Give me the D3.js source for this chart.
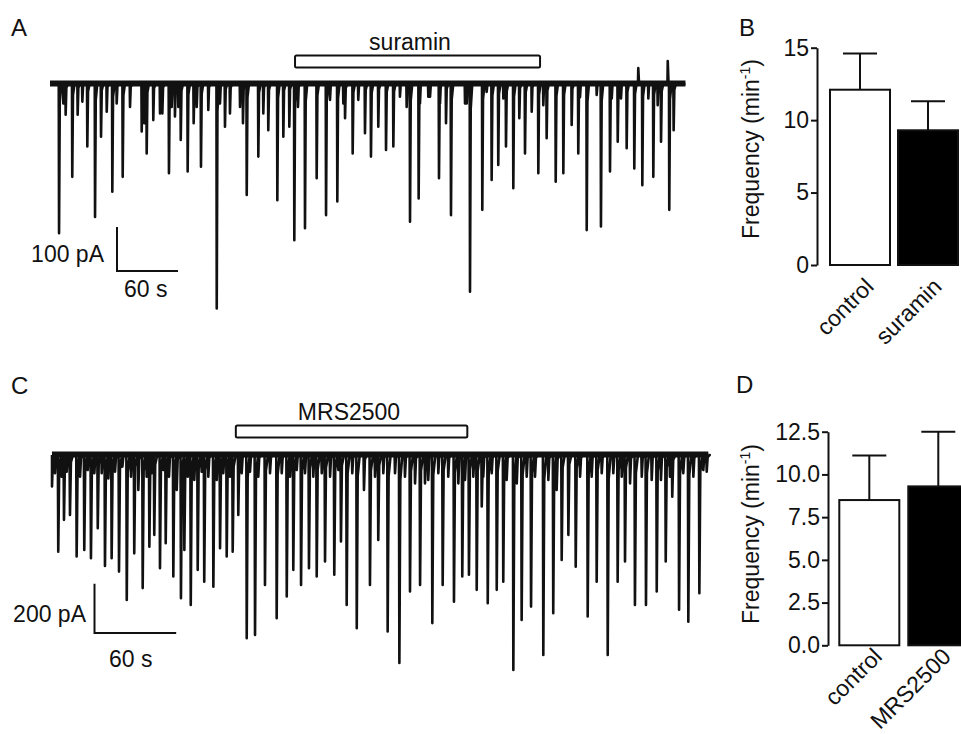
<!DOCTYPE html>
<html>
<head>
<meta charset="utf-8">
<script src="https://cdn.jsdelivr.net/npm/d3@7"></script>
<style>
  body { margin: 0; background: #fff; }
  svg text { font-family: "Liberation Sans", Arial, sans-serif; fill: #111; }
  .trace { fill: none; stroke: #111; stroke-width: 2.6; stroke-linejoin: round; }
  .noise { stroke: #111; stroke-width: 6; }
  .scalebar { fill: none; stroke: #111; stroke-width: 2; }
  .drugbar { fill: #fff; stroke: #111; stroke-width: 2; }
  .axis path, .axis line { stroke: #111; stroke-width: 2; }
  .axis text { font-size: 23px; }
</style>
</head>
<body>
<div id="chart-container"></div>
<script>
// Panel A trace: suramin experiment (time in s, amplitude in pA, inward = positive)
const eventTimesA = [8.9, 15.4, 21.9, 27.2, 36.7, 44.3, 50.2, 55.8, 61.3, 71.5, 78.7, 90.2, 95.1, 101.6, 110.5, 117.0, 122.9, 128.6, 135.4, 141.3, 148.5, 155.7, 164.0, 172.1, 177.0, 193.5, 204.9, 214.7, 223.6, 229.5, 235.4, 240.3, 250.8, 262.3, 271.5, 282.6, 290.2, 297.7, 303.2, 309.8, 315.7, 322.9, 330.5, 337.7, 350.8, 354.1, 362.6, 372.1, 382.6, 389.5, 394.4, 409.9, 413.1, 425.2, 434.4, 440.9, 448.5, 455.7, 461.6, 467.2, 473.8, 480.3, 488.5, 497.4, 504.9, 513.1, 519.6, 527.9, 541.9, 550.8, 558.4, 567.2, 574.7, 582.6, 593.4, 601.0, 609.1, 613.4];
const eventAmpsA = [339, 70, 211, 70, 142, 302, 120, 63, 245, 211, 52, 108, 158, 82, 67, 203, 74, 127, 199, 89, 188, 59, 510, 97, 67, 252, 165, 105, 264, 120, 97, 355, 328, 214, 298, 267, 78, 158, 36, 112, 165, 97, 150, 142, 52, 313, 260, 29, 214, 89, 298, 44, 472, 286, 218, 184, 142, 237, 78, 158, 63, 203, 123, 222, 203, 93, 158, 332, 324, 199, 131, 146, 192, 230, 211, 131, 286, 105];
const smallTimesA = [13.1, 31.8, 65.6, 92.8, 108.2, 119.7, 126.2, 144.3, 167.2, 186.9, 189.8, 209.8, 243.9, 275.4, 288.5, 344.2, 363.9, 373.8, 383.6, 408.2, 429.5, 445.9, 485.2, 521.3, 537.7, 552.5, 561.6, 588.5, 597.7];
const smallAmpsA = [44, 40, 44, 89, 67, 52, 52, 52, 44, 52, 89, 67, 52, 36, 44, 29, 44, 29, 44, 44, 18, 33, 48, 30, 25, 33, 33, 33, 48];
const upTimesA = [578.6, 607.6];
const upAmpsA = [-36, -52];
const durationA = 625;
const suraminOn = [241, 482];

// Panel C trace: MRS2500 experiment
const eventTimesC = [0, 4.6, 8.8, 13.2, 18.1, 23.7, 28.6, 33.6, 38.9, 43.8, 49.2, 54.9, 60.4, 66.6, 71.5, 75.1, 79.3, 83.5, 89.1, 94.7, 97.2, 101.9, 107.0, 111.8, 118.5, 123.4, 128.3, 132.7, 136.8, 143.0, 149.1, 156.4, 165.0, 172.4, 177.2, 182.9, 188.7, 194.4, 200.5, 207.3, 212.2, 216.4, 223.8, 229.1, 233.5, 239.6, 246.5, 255.1, 262.9, 270.3, 273.9, 279.3, 286.9, 295.2, 301.3, 306.2, 311.9, 315.6, 320.0, 326.6, 331.4, 338.8, 344.9, 351.8, 360.8, 368.1, 374.3, 379.2, 384.6, 393.4, 400.0, 408.1, 415.4, 420.8, 428.1, 436.2, 444.1, 450.7, 455.5, 460.5, 467.3, 475.4, 480.8];
const eventAmpsC = [128, 392, 263, 243, 412, 385, 419, 297, 450, 419, 473, 588, 399, 540, 372, 324, 459, 358, 493, 581, 385, 608, 466, 514, 534, 378, 412, 392, 243, 743, 730, 527, 662, 574, 466, 527, 459, 493, 432, 486, 351, 608, 703, 142, 527, 345, 716, 844, 554, 527, 115, 682, 527, 595, 493, 486, 547, 209, 601, 547, 514, 872, 669, 615, 811, 642, 426, 324, 453, 655, 514, 811, 514, 432, 608, 608, 554, 432, 169, 628, 676, 561, 68];
const smallTimesC = [2.2, 7.1, 10.8, 20.6, 26.2, 31.1, 36.5, 41.4, 46.3, 51.7, 58.0, 63.4, 69.5, 73.2, 81.7, 85.9, 91.6, 99.7, 104.5, 109.9, 114.8, 121.0, 125.8, 130.7, 139.3, 145.4, 151.5, 160.1, 168.7, 174.8, 179.7, 185.8, 191.9, 198.1, 204.2, 210.3, 220.5, 237.2, 243.3, 251.9, 259.2, 266.6, 276.3, 283.7, 291.0, 298.4, 303.3, 309.4, 316.7, 322.9, 333.9, 341.3, 348.6, 354.7, 364.5, 370.6, 387.8, 396.3, 403.7, 412.2, 418.4, 424.5, 433.1, 440.4, 447.2, 453.8, 463.6, 471.0, 478.3];
const smallAmpsC = [74, 88, 68, 88, 61, 74, 74, 95, 68, 47, 88, 142, 88, 74, 61, 88, 142, 88, 101, 68, 88, 101, 74, 88, 74, 68, 88, 74, 74, 88, 61, 74, 88, 74, 88, 61, 74, 88, 74, 74, 88, 115, 101, 74, 88, 115, 101, 88, 88, 74, 101, 115, 88, 88, 101, 142, 88, 88, 74, 74, 88, 115, 88, 101, 101, 88, 74, 88, 61];
const durationC = 482;
const mrsOn = [135, 305];

// Panel B / D bar data (frequency, min-1)
const groupsB = ["control", "suramin"];
const meanB = [12.1, 9.3];
const errB = [2.5, 2.0];
const ticksB = [0, 5, 10, 15];

const groupsD = ["control", "MRS2500"];
const meanD = [8.5, 9.3];
const errD = [2.6, 3.2];
const ticksD = [0, 2.5, 5, 7.5, 10, 12.5];

const barFills = ["#fff", "#000"];

let svg = d3.select("#chart-container").append("svg")
  .attr("width", 961)
  .attr("height", 734);

// Build the trace as a path: baseline with a sharp drop and quick recovery per event.
function tracePoints(times, amps, duration) {
  let ev = times.map((t, i) => ({ t: t, a: amps[i] })).sort((a, b) => a.t - b.t);
  let pts = [[0, 0]];
  ev.forEach(e => {
    pts.push([Math.max(0, e.t - 0.3), 0], [e.t, e.a], [e.t + 0.7, e.a * 0.12], [e.t + 2.2, 0]);
  });
  pts.push([duration, 0]);
  return pts;
}

function drawTrace(g, xS, yS, times, amps, duration) {
  let line = d3.line()
    .x(d => xS(d[0]))
    .y(d => yS(d[1]));

  // Noise band along the baseline.
  g.append("line")
    .attr("class", "noise")
    .attr("x1", xS(0))
    .attr("x2", xS(duration))
    .attr("y1", yS(0) - 0.5)
    .attr("y2", yS(0) - 0.5);

  g.append("path")
    .attr("class", "trace")
    .attr("d", line(tracePoints(times, amps, duration)));
}

function drawScaleBar(g, x0, y0, len, height, yLabel, xLabel, yText, xText) {
  g.append("path")
    .attr("class", "scalebar")
    .attr("d", `M${ x0 },${ y0 - height } V${ y0 } H${ x0 + len }`);
  g.append("text")
    .attr("x", yText[0]).attr("y", yText[1])
    .attr("text-anchor", "end")
    .style("font-size", "23px")
    .text(yLabel);
  g.append("text")
    .attr("x", xText[0]).attr("y", xText[1])
    .style("font-size", "23px")
    .text(xLabel);
}

function drawDrugBar(g, xS, on, y, label, labelX) {
  g.append("rect")
    .attr("class", "drugbar")
    .attr("x", xS(on[0]))
    .attr("y", y)
    .attr("width", xS(on[1]) - xS(on[0]))
    .attr("height", 12)
    .attr("rx", 1.5);
  g.append("text")
    .attr("x", labelX)
    .attr("y", y - 6)
    .attr("text-anchor", "middle")
    .style("font-size", "23px")
    .text(label);
}

// ---- Panel A ----
let xA = d3.scaleLinear().domain([0, durationA]).range([50, 50 + durationA * 1.0167]);
let yA = d3.scaleLinear().domain([0, 100]).range([84, 128]);
let gA = svg.append("g");
drawTrace(gA, xA,  yA,
  eventTimesA.concat(smallTimesA, upTimesA),
  eventAmpsA.concat(smallAmpsA, upAmpsA),
  durationA);
drawDrugBar(gA, xA, suraminOn, 55.5, "suramin", 410);
drawScaleBar(gA, 117, 271, xA(60) - xA(0), yA(100) - yA(0), "100 pA", "60 s", [104, 262], [124, 297]);

// ---- Panel C ----
let xC = d3.scaleLinear().domain([0, durationC]).range([52, 52 + durationC * 1.3617]);
let yC = d3.scaleLinear().domain([0, 200]).range([455, 504.3]);
let gC = svg.append("g");
drawTrace(gC, xC, yC,
  eventTimesC.concat(smallTimesC),
  eventAmpsC.concat(smallAmpsC),
  durationC);
drawDrugBar(gC, xC, mrsOn, 425.5, "MRS2500", 349);
drawScaleBar(gC, 94.5, 633, xC(60) - xC(0), yC(200) - yC(0), "200 pA", "60 s", [86, 622], [109, 667]);

// ---- Bar charts ----
function drawBars(groups, means, errs, ticks, opt) {
  let g = svg.append("g");

  let x = d3.scaleBand()
    .domain(groups)
    .range(opt.xRange)
    .paddingInner(opt.pad);
  let y = d3.scaleLinear()
    .domain([0, ticks[ticks.length - 1]])
    .range(opt.yRange);

  g.append("g")
    .attr("class", "axis")
    .attr("transform", `translate(${ opt.axisX } 0)`)
    .call(d3.axisLeft(y).tickValues(ticks).tickFormat(opt.fmt).tickSize(6).tickSizeOuter(0).tickPadding(2))
    .call(a => a.selectAll("text").attr("fill", "#111"));

  let bw = x.bandwidth();

  // Error bars (upper only).
  g.selectAll(".err")
    .data(groups)
    .enter()
    .append("path")
      .attr("fill", "none")
      .attr("stroke", "#111")
      .attr("stroke-width", 2)
      .attr("d", (d, i) => {
        let cx = x(d) + bw / 2;
        return `M${ cx },${ y(means[i]) } V${ y(means[i] + errs[i]) } M${ cx - 17 },${ y(means[i] + errs[i]) } H${ cx + 17 }`;
      });

  g.selectAll(".bar")
    .data(groups)
    .enter()
    .append("rect")
      .attr("x", d => x(d))
      .attr("y", (d, i) => y(means[i]))
      .attr("width", bw)
      .attr("height", (d, i) => y(0) - y(means[i]))
      .attr("fill", (d, i) => barFills[i])
      .attr("stroke", "#111")
      .attr("stroke-width", 2);

  // Rotated category labels.
  g.selectAll(".xlab")
    .data(groups)
    .enter()
    .append("text")
      .attr("text-anchor", "end")
      .attr("transform", d => `translate(${ x(d) + bw / 2 + opt.labDx } ${ opt.labY }) rotate(-45)`)
      .style("font-size", "23px")
      .text(d => d);

  // Y axis title with superscript.
  let t = g.append("text")
    .attr("text-anchor", "middle")
    .attr("transform", `translate(${ opt.titleX } ${ opt.titleY }) rotate(-90)`)
    .style("font-size", "23px");
  t.append("tspan").text("Frequency (min");
  t.append("tspan").attr("dy", -9).style("font-size", "14px").text("-1");
  t.append("tspan").attr("dy", 9).text(")");
}

drawBars(groupsB, meanB, errB, ticksB, {
  xRange: [830, 958], pad: 0.1176, yRange: [265, 47.7], axisX: 817,
  fmt: d3.format("d"), labDx: 15, labY: 288, titleX: 759, titleY: 149
});

drawBars(groupsD, meanD, errD, ticksD, {
  xRange: [839.3, 968.3], pad: 0.13, yRange: [645.3, 431.7], axisX: 828,
  fmt: d3.format(".1f"), labDx: 14, labY: 658, titleX: 759, titleY: 534
});

// Panel letters.
[["A", 11, 36], ["B", 739, 36], ["C", 11, 394], ["D", 736, 393]].forEach(p => {
  svg.append("text")
    .attr("x", p[1]).attr("y", p[2])
    .style("font-size", "24px")
    .text(p[0]);
});
</script>
</body>
</html>
